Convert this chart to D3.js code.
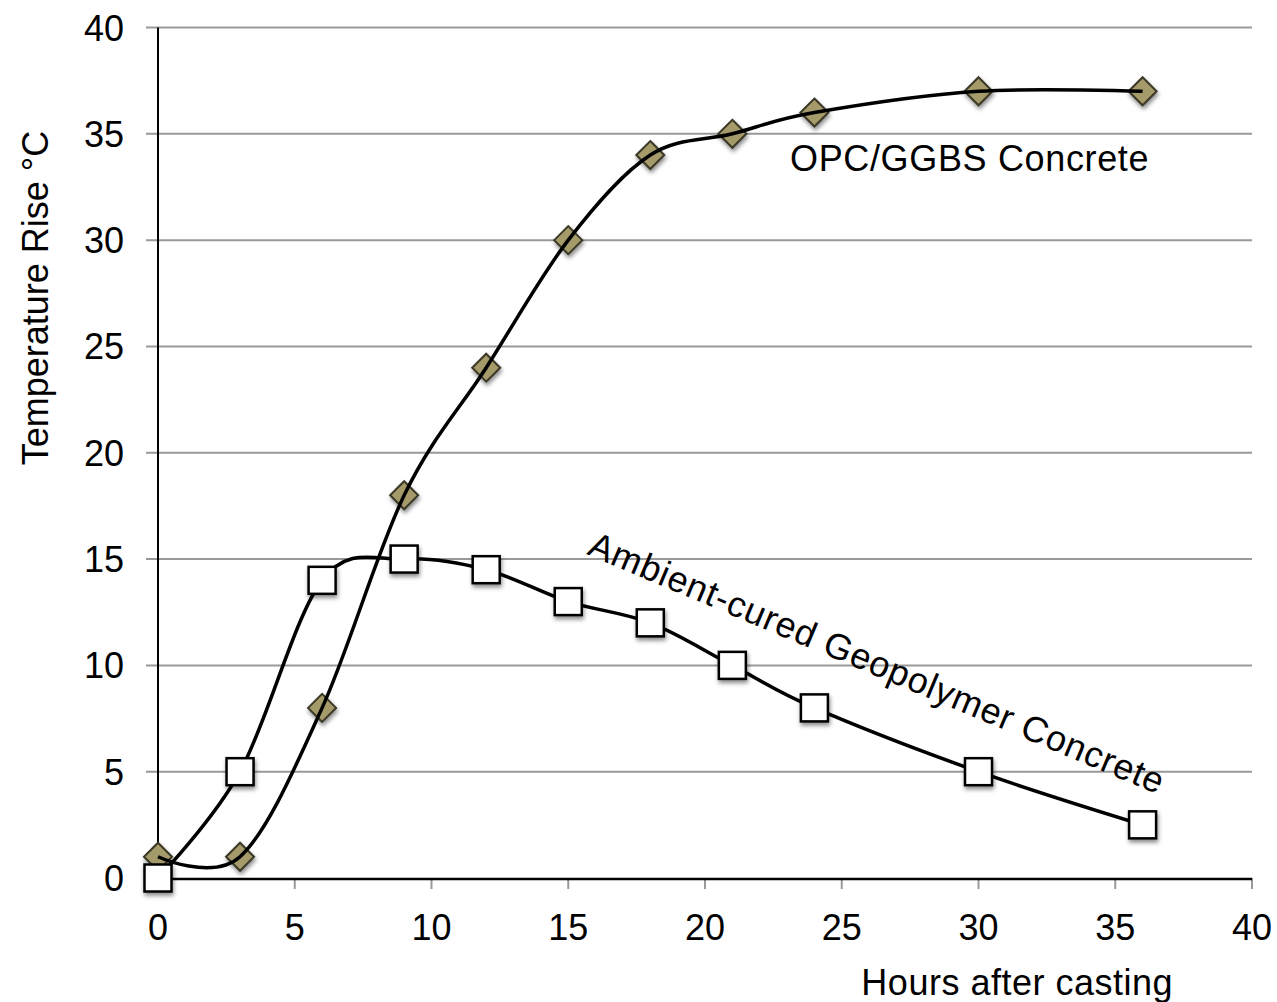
<!DOCTYPE html>
<html>
<head>
<meta charset="utf-8">
<script src="https://cdn.jsdelivr.net/npm/d3@7"></script>
<style>
  body { margin: 0; background: #fff; }
  text { font-family: "Liberation Sans", Arial, sans-serif; fill: #000; }
</style>
</head>
<body>
<div id="chart"></div>
<script>
// hours after casting
const hours = [0, 3, 6, 9, 12, 15, 18, 21, 24, 30, 36];
// temperature rise (deg C)
const opcGgbs = [1, 1, 8, 18, 24, 30, 34, 35, 36, 37, 37];
const geopolymer = [0, 5, 14, 15, 14.5, 13, 12, 10, 8, 5, 2.5];
const xTicks = [0, 5, 10, 15, 20, 25, 30, 35, 40];
const yTicks = [0, 5, 10, 15, 20, 25, 30, 35, 40];

(function () {
    let width = 1277, height = 1002;
    let svg = d3.select("#chart")
        .append("svg")
        .attr("width", width)
        .attr("height", height);

    let defs = svg.append("defs");
    let f = defs.append("filter").attr("id", "shadow")
        .attr("x", "-50%").attr("y", "-50%").attr("width", "200%").attr("height", "200%");
    f.append("feDropShadow")
        .attr("dx", 1).attr("dy", 3).attr("stdDeviation", 2)
        .attr("flood-color", "#000").attr("flood-opacity", 0.45);

    let x = d3.scaleLinear().domain([0, 40]).range([158, 1252]);
    let y = d3.scaleLinear().domain([0, 40]).range([878, 27.5]);

    // gridlines with left stubs
    svg.append("g")
        .selectAll("line")
        .data(yTicks.filter(d => d > 0))
        .enter()
        .append("line")
        .attr("x1", 146)
        .attr("x2", x(40))
        .attr("y1", d => y(d))
        .attr("y2", d => y(d))
        .attr("stroke", "#999")
        .attr("stroke-width", 2);

    // x tick marks
    svg.append("g")
        .selectAll("line")
        .data(xTicks.filter(d => d > 0))
        .enter()
        .append("line")
        .attr("x1", d => x(d))
        .attr("x2", d => x(d))
        .attr("y1", y(0))
        .attr("y2", y(0) + 11)
        .attr("stroke", "#999")
        .attr("stroke-width", 2);

    // axes lines
    svg.append("line")
        .attr("x1", x(0)).attr("x2", x(40))
        .attr("y1", y(0) + 1).attr("y2", y(0) + 1)
        .attr("stroke", "#000").attr("stroke-width", 2.5);
    svg.append("line")
        .attr("x1", x(0)).attr("x2", x(0))
        .attr("y1", y(40)).attr("y2", y(0) + 2)
        .attr("stroke", "#000").attr("stroke-width", 2);

    // tick labels
    svg.append("g")
        .selectAll("text")
        .data(yTicks)
        .enter()
        .append("text")
        .attr("x", 124)
        .attr("y", d => y(d) + 13)
        .attr("text-anchor", "end")
        .attr("font-size", "36px")
        .text(d => d);
    svg.append("g")
        .selectAll("text")
        .data(xTicks)
        .enter()
        .append("text")
        .attr("x", d => x(d))
        .attr("y", 940)
        .attr("text-anchor", "middle")
        .attr("font-size", "36px")
        .text(d => d);

    // axis titles
    svg.append("text")
        .attr("transform", "translate(48,298) rotate(-90)")
        .attr("text-anchor", "middle")
        .attr("font-size", "36px")
        .text("Temperature Rise °C");
    svg.append("text")
        .attr("x", 1173)
        .attr("y", 995)
        .attr("text-anchor", "end")
        .attr("font-size", "36px")
        .attr("letter-spacing", "0.5px")
        .text("Hours after casting");

    let line = d3.line()
        .curve(d3.curveCardinal.tension(0))
        .x(d => x(d[0]))
        .y(d => y(d[1]));

    let opcData = hours.map((h, i) => [h, opcGgbs[i]]);
    let geoData = hours.map((h, i) => [h, geopolymer[i]]);

    // diamonds
    let ds = 14;
    svg.append("g")
        .selectAll("path")
        .data(opcData)
        .enter()
        .append("path")
        .attr("d", d => `M${x(d[0])},${y(d[1]) - ds}L${x(d[0]) + ds},${y(d[1])}L${x(d[0])},${y(d[1]) + ds}L${x(d[0]) - ds},${y(d[1])}Z`)
        .attr("fill", "#a59a6b")
        .attr("stroke", "#3b3826")
        .attr("stroke-width", 2)
        .attr("filter", "url(#shadow)");

    svg.append("path")
        .attr("d", line(opcData))
        .attr("fill", "none")
        .attr("stroke", "#000")
        .attr("stroke-width", 3.5);
    svg.append("path")
        .attr("d", line(geoData))
        .attr("fill", "none")
        .attr("stroke", "#000")
        .attr("stroke-width", 3.5);

    // squares
    let sq = 27;
    svg.append("g")
        .selectAll("rect")
        .data(geoData)
        .enter()
        .append("rect")
        .attr("x", d => x(d[0]) - sq / 2)
        .attr("y", d => y(d[1]) - sq / 2)
        .attr("width", sq)
        .attr("height", sq)
        .attr("fill", "#fff")
        .attr("stroke", "#000")
        .attr("stroke-width", 2.5)
        .attr("filter", "url(#shadow)");

    // series labels
    svg.append("text")
        .attr("x", 790)
        .attr("y", 171)
        .attr("font-size", "36px")
        .attr("letter-spacing", "0.65px")
        .text("OPC/GGBS Concrete");
    svg.append("text")
        .attr("transform", "translate(586,554) rotate(22.8)")
        .attr("font-size", "36px")
        .attr("letter-spacing", "0.75px")
        .text("Ambient-cured Geopolymer Concrete");
})()
</script>
</body>
</html>
